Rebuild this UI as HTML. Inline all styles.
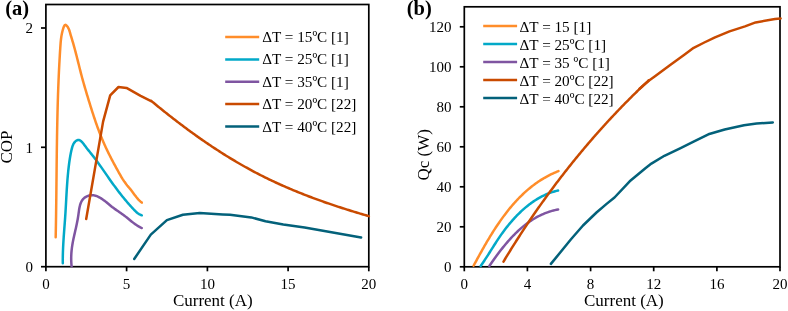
<!DOCTYPE html>
<html><head><meta charset="utf-8"><style>
html,body{margin:0;padding:0;background:#fff;width:788px;height:311px;overflow:hidden}
svg{display:block;will-change:transform;font-family:"Liberation Serif", serif}
</style></head><body>
<svg width="788" height="311" viewBox="0 0 788 311" font-family="Liberation Serif" fill="#000"><rect x="45.9" y="4.5" width="322.90000000000003" height="262.2" fill="none" stroke="#000" stroke-width="1.7"/>
<line x1="41" y1="266.7" x2="45.9" y2="266.7" stroke="#000" stroke-width="1.7"/>
<text x="32.9" y="271.9" font-size="15" text-anchor="end" >0</text>
<line x1="41" y1="147.3" x2="45.9" y2="147.3" stroke="#000" stroke-width="1.7"/>
<text x="32.9" y="152.54999999999998" font-size="15" text-anchor="end" >1</text>
<line x1="41" y1="28.0" x2="45.9" y2="28.0" stroke="#000" stroke-width="1.7"/>
<text x="32.9" y="33.2" font-size="15" text-anchor="end" >2</text>
<line x1="45.9" y1="266.7" x2="45.9" y2="271.3" stroke="#000" stroke-width="1.7"/>
<text x="45.9" y="289.2" font-size="15" text-anchor="middle" >0</text>
<line x1="126.6" y1="266.7" x2="126.6" y2="271.3" stroke="#000" stroke-width="1.7"/>
<text x="126.6" y="289.2" font-size="15" text-anchor="middle" >5</text>
<line x1="207.4" y1="266.7" x2="207.4" y2="271.3" stroke="#000" stroke-width="1.7"/>
<text x="207.4" y="289.2" font-size="15" text-anchor="middle" >10</text>
<line x1="288.1" y1="266.7" x2="288.1" y2="271.3" stroke="#000" stroke-width="1.7"/>
<text x="288.1" y="289.2" font-size="15" text-anchor="middle" >15</text>
<line x1="368.8" y1="266.7" x2="368.8" y2="271.3" stroke="#000" stroke-width="1.7"/>
<text x="368.8" y="289.2" font-size="15" text-anchor="middle" >20</text>
<text x="212.8" y="306.1" font-size="17" text-anchor="middle" >Current (A)</text>
<text transform="translate(12,147) rotate(-90)" x="0" y="0" font-size="17" text-anchor="middle">COP</text>
<text x="5.3" y="15.1" font-size="20.5" font-weight="bold">(a)</text>
<rect x="464.3" y="6.8" width="315.7" height="260.0" fill="none" stroke="#000" stroke-width="1.7"/>
<line x1="459.8" y1="266.8" x2="464.3" y2="266.8" stroke="#000" stroke-width="1.7"/>
<text x="451.5" y="272.0" font-size="15" text-anchor="end" >0</text>
<line x1="459.8" y1="226.8" x2="464.3" y2="226.8" stroke="#000" stroke-width="1.7"/>
<text x="451.5" y="232.0" font-size="15" text-anchor="end" >20</text>
<line x1="459.8" y1="186.8" x2="464.3" y2="186.8" stroke="#000" stroke-width="1.7"/>
<text x="451.5" y="192.0" font-size="15" text-anchor="end" >40</text>
<line x1="459.8" y1="146.8" x2="464.3" y2="146.8" stroke="#000" stroke-width="1.7"/>
<text x="451.5" y="152.0" font-size="15" text-anchor="end" >60</text>
<line x1="459.8" y1="106.8" x2="464.3" y2="106.8" stroke="#000" stroke-width="1.7"/>
<text x="451.5" y="112.00000000000001" font-size="15" text-anchor="end" >80</text>
<line x1="459.8" y1="66.8" x2="464.3" y2="66.8" stroke="#000" stroke-width="1.7"/>
<text x="451.5" y="72.00000000000001" font-size="15" text-anchor="end" >100</text>
<line x1="459.8" y1="26.8" x2="464.3" y2="26.8" stroke="#000" stroke-width="1.7"/>
<text x="451.5" y="32.000000000000014" font-size="15" text-anchor="end" >120</text>
<line x1="464.3" y1="266.8" x2="464.3" y2="271.3" stroke="#000" stroke-width="1.7"/>
<text x="464.3" y="289.2" font-size="15" text-anchor="middle" >0</text>
<line x1="527.4" y1="266.8" x2="527.4" y2="271.3" stroke="#000" stroke-width="1.7"/>
<text x="527.4" y="289.2" font-size="15" text-anchor="middle" >4</text>
<line x1="590.6" y1="266.8" x2="590.6" y2="271.3" stroke="#000" stroke-width="1.7"/>
<text x="590.6" y="289.2" font-size="15" text-anchor="middle" >8</text>
<line x1="653.7" y1="266.8" x2="653.7" y2="271.3" stroke="#000" stroke-width="1.7"/>
<text x="653.7" y="289.2" font-size="15" text-anchor="middle" >12</text>
<line x1="716.9" y1="266.8" x2="716.9" y2="271.3" stroke="#000" stroke-width="1.7"/>
<text x="716.9" y="289.2" font-size="15" text-anchor="middle" >16</text>
<line x1="780.0" y1="266.8" x2="780.0" y2="271.3" stroke="#000" stroke-width="1.7"/>
<text x="780.0" y="289.2" font-size="15" text-anchor="middle" >20</text>
<text x="623.9" y="306.1" font-size="17" text-anchor="middle" >Current (A)</text>
<text transform="translate(429,154.8) rotate(-90)" x="0" y="0" font-size="17" text-anchor="middle">Qc (W)</text>
<text x="406.8" y="15.1" font-size="20.5" font-weight="bold">(b)</text>
<path d="M55.68 237.30 L55.71 235.80 L55.74 234.29 L55.77 232.78 L55.80 231.28 L55.83 229.77 L55.86 228.27 L55.88 226.76 L55.91 225.25 L55.94 223.75 L55.96 222.24 L55.99 220.74 L56.01 219.23 L56.03 217.73 L56.06 216.22 L56.08 214.71 L56.10 213.21 L56.12 211.70 L56.14 210.20 L56.16 208.69 L56.18 207.19 L56.20 205.68 L56.22 204.18 L56.24 202.67 L56.26 201.16 L56.28 199.66 L56.30 198.15 L56.31 196.65 L56.33 195.14 L56.35 193.64 L56.36 192.13 L56.38 190.63 L56.40 189.12 L56.41 187.62 L56.43 186.11 L56.45 184.61 L56.46 183.10 L56.48 181.60 L56.49 180.09 L56.51 178.59 L56.53 177.08 L56.54 175.58 L56.56 174.07 L56.57 172.57 L56.59 171.07 L56.60 169.56 L56.62 168.06 L56.64 166.55 L56.65 165.05 L56.67 163.54 L56.69 162.04 L56.70 160.53 L56.72 159.03 L56.74 157.52 L56.76 156.02 L56.78 154.51 L56.79 153.01 L56.81 151.50 L56.83 150.00 L56.85 148.50 L56.87 146.99 L56.89 145.49 L56.92 143.98 L56.94 142.48 L56.96 140.97 L56.98 139.47 L57.01 137.96 L57.03 136.46 L57.05 134.96 L57.08 133.45 L57.11 131.95 L57.13 130.44 L57.16 128.94 L57.19 127.43 L57.22 125.93 L57.25 124.42 L57.28 122.92 L57.31 121.41 L57.34 119.91 L57.37 118.41 L57.41 116.90 L57.44 115.40 L57.48 113.89 L57.51 112.39 L57.55 110.88 L57.59 109.38 L57.63 107.87 L57.67 106.37 L57.71 104.86 L57.75 103.36 L57.80 101.85 L57.84 100.35 L57.89 98.84 L57.94 97.34 L57.98 95.83 L58.03 94.33 L58.08 92.83 L58.14 91.32 L58.19 89.82 L58.25 88.31 L58.30 86.81 L58.36 85.30 L58.42 83.80 L58.48 82.29 L58.54 80.79 L58.60 79.28 L58.67 77.77 L58.73 76.27 L58.80 74.76 L58.87 73.26 L58.94 71.75 L59.01 70.25 L59.08 68.74 L59.16 67.24 L59.24 65.73 L59.31 64.23 L59.39 62.72 L59.48 61.22 L59.56 59.71 L59.65 58.20 L59.73 56.70 L59.82 55.19 L59.91 53.69 L60.00 52.18 L60.10 50.67 L60.20 49.17 L60.29 47.66 L60.39 46.16 L60.50 44.65 L60.61 43.16 L60.74 41.67 L60.89 40.20 L61.05 38.75 L61.24 37.31 L61.46 35.90 L61.72 34.47 L62.03 33.00 L62.39 31.45 L62.83 29.79 L63.35 28.02 L63.97 26.39 L64.71 25.23 L65.58 24.87 L66.57 25.47 L67.56 26.72 L68.44 28.26 L69.10 29.77 L69.61 31.24 L70.02 32.68 L70.42 34.10 L70.84 35.53 L71.27 36.96 L71.71 38.40 L72.15 39.83 L72.58 41.27 L73.00 42.71 L73.42 44.15 L73.83 45.60 L74.23 47.05 L74.63 48.50 L75.02 49.95 L75.41 51.41 L75.79 52.87 L76.16 54.32 L76.54 55.78 L76.91 57.24 L77.28 58.71 L77.65 60.17 L78.01 61.63 L78.38 63.09 L78.75 64.56 L79.11 66.02 L79.48 67.48 L79.85 68.94 L80.22 70.40 L80.59 71.86 L80.96 73.32 L81.34 74.78 L81.73 76.23 L82.11 77.69 L82.51 79.14 L82.91 80.59 L83.31 82.04 L83.72 83.49 L84.13 84.93 L84.55 86.37 L84.97 87.82 L85.39 89.26 L85.82 90.70 L86.25 92.14 L86.68 93.58 L87.11 95.02 L87.55 96.46 L87.99 97.90 L88.42 99.34 L88.86 100.78 L89.31 102.22 L89.75 103.66 L90.20 105.10 L90.64 106.54 L91.09 107.97 L91.55 109.41 L92.00 110.85 L92.46 112.28 L92.93 113.72 L93.40 115.15 L93.87 116.58 L94.34 118.01 L94.83 119.44 L95.31 120.87 L95.80 122.29 L96.30 123.71 L96.80 125.13 L97.31 126.55 L97.82 127.97 L98.34 129.38 L98.87 130.79 L99.40 132.20 L99.94 133.60 L100.49 135.00 L101.05 136.40 L101.61 137.79 L102.18 139.18 L102.77 140.57 L103.35 141.95 L103.95 143.33 L104.56 144.70 L105.18 146.07 L105.80 147.44 L106.44 148.80 L107.08 150.15 L107.74 151.51 L108.40 152.86 L109.07 154.20 L109.74 155.55 L110.43 156.89 L111.12 158.22 L111.81 159.56 L112.51 160.89 L113.22 162.22 L113.93 163.55 L114.64 164.88 L115.36 166.21 L116.09 167.53 L116.81 168.86 L117.54 170.18 L118.27 171.51 L119.00 172.83 L119.75 174.15 L120.50 175.46 L121.26 176.76 L122.05 178.05 L122.84 179.33 L123.66 180.59 L124.51 181.84 L125.38 183.06 L126.27 184.26 L127.20 185.44 L128.16 186.60 L129.12 187.75 L130.09 188.91 L131.04 190.08 L131.96 191.27 L132.86 192.47 L133.75 193.69 L134.65 194.90 L135.56 196.11 L136.48 197.29 L137.44 198.44 L138.44 199.56 L139.50 200.63 L140.61 201.65 L141.80 202.60" fill="none" stroke="#FF8D2A" stroke-width="2.5" stroke-linejoin="round" stroke-linecap="round"/>
<path d="M62.80 263.20 L62.79 261.68 L62.78 260.15 L62.79 258.63 L62.81 257.11 L62.83 255.60 L62.87 254.08 L62.91 252.56 L62.96 251.05 L63.02 249.54 L63.08 248.02 L63.15 246.51 L63.23 245.00 L63.31 243.49 L63.40 241.98 L63.49 240.47 L63.59 238.96 L63.69 237.45 L63.79 235.95 L63.90 234.44 L64.01 232.93 L64.12 231.42 L64.23 229.92 L64.34 228.41 L64.45 226.90 L64.57 225.39 L64.68 223.89 L64.79 222.38 L64.90 220.87 L65.01 219.36 L65.12 217.85 L65.22 216.34 L65.32 214.83 L65.42 213.32 L65.51 211.81 L65.60 210.29 L65.69 208.78 L65.78 207.27 L65.86 205.75 L65.95 204.24 L66.03 202.72 L66.11 201.21 L66.20 199.70 L66.28 198.18 L66.36 196.67 L66.45 195.15 L66.53 193.64 L66.62 192.12 L66.71 190.61 L66.80 189.10 L66.90 187.58 L67.00 186.07 L67.10 184.56 L67.21 183.05 L67.32 181.54 L67.43 180.03 L67.55 178.52 L67.68 177.02 L67.81 175.51 L67.95 174.01 L68.10 172.50 L68.25 171.00 L68.41 169.50 L68.58 168.00 L68.75 166.51 L68.94 165.01 L69.13 163.52 L69.33 162.02 L69.55 160.53 L69.78 159.04 L70.02 157.55 L70.27 156.06 L70.55 154.57 L70.84 153.08 L71.15 151.58 L71.48 150.09 L71.84 148.59 L72.23 147.09 L72.71 145.63 L73.33 144.22 L74.13 142.89 L75.15 141.66 L76.35 140.66 L77.62 140.04 L78.88 139.96 L80.10 140.41 L81.26 141.29 L82.39 142.46 L83.48 143.81 L84.53 145.22 L85.56 146.58 L86.56 147.89 L87.54 149.15 L88.50 150.37 L89.45 151.55 L90.37 152.71 L91.29 153.86 L92.19 155.00 L93.09 156.14 L93.98 157.28 L94.87 158.44 L95.75 159.62 L96.63 160.80 L97.51 162.00 L98.39 163.21 L99.26 164.42 L100.14 165.65 L101.01 166.88 L101.88 168.12 L102.75 169.36 L103.62 170.61 L104.49 171.87 L105.37 173.12 L106.24 174.38 L107.11 175.64 L107.98 176.90 L108.86 178.16 L109.74 179.41 L110.62 180.66 L111.50 181.91 L112.38 183.16 L113.27 184.40 L114.16 185.63 L115.06 186.85 L115.95 188.07 L116.86 189.28 L117.77 190.48 L118.68 191.68 L119.60 192.87 L120.52 194.06 L121.46 195.23 L122.40 196.41 L123.34 197.57 L124.30 198.74 L125.26 199.89 L126.23 201.04 L127.21 202.19 L128.20 203.33 L129.20 204.47 L130.21 205.60 L131.23 206.73 L132.26 207.86 L133.31 208.98 L134.36 210.09 L135.44 211.19 L136.56 212.23 L137.74 213.19 L139.00 214.04 L140.34 214.75 L141.80 215.30" fill="none" stroke="#02A9C8" stroke-width="2.5" stroke-linejoin="round" stroke-linecap="round"/>
<path d="M71.60 266.30 L71.44 264.54 L71.32 262.82 L71.25 261.14 L71.20 259.48 L71.20 257.86 L71.23 256.26 L71.29 254.69 L71.38 253.14 L71.50 251.62 L71.64 250.11 L71.81 248.63 L72.00 247.16 L72.21 245.70 L72.45 244.26 L72.70 242.83 L72.96 241.40 L73.24 239.99 L73.53 238.58 L73.83 237.17 L74.14 235.76 L74.46 234.35 L74.78 232.94 L75.11 231.52 L75.43 230.10 L75.76 228.67 L76.08 227.23 L76.40 225.77 L76.71 224.30 L77.02 222.82 L77.31 221.31 L77.60 219.79 L77.87 218.24 L78.12 216.67 L78.36 215.08 L78.59 213.45 L78.81 211.82 L79.04 210.18 L79.30 208.56 L79.61 206.97 L79.98 205.42 L80.42 203.93 L80.96 202.52 L81.61 201.19 L82.38 199.97 L83.29 198.86 L84.35 197.88 L85.53 197.04 L86.81 196.35 L88.17 195.81 L89.59 195.44 L91.05 195.23 L92.53 195.20 L94.01 195.36 L95.47 195.70 L96.92 196.19 L98.34 196.81 L99.73 197.54 L101.10 198.35 L102.42 199.23 L103.70 200.15 L104.95 201.10 L106.17 202.08 L107.36 203.06 L108.54 204.05 L109.72 205.03 L110.90 206.00 L112.09 206.95 L113.30 207.86 L114.52 208.75 L115.76 209.63 L117.00 210.49 L118.24 211.34 L119.49 212.20 L120.73 213.05 L121.97 213.92 L123.20 214.80 L124.42 215.70 L125.62 216.63 L126.81 217.57 L128.00 218.53 L129.19 219.50 L130.37 220.46 L131.56 221.42 L132.76 222.36 L133.98 223.29 L135.21 224.18 L136.47 225.05 L137.75 225.87 L139.06 226.64 L140.41 227.36 L141.79 228.01" fill="none" stroke="#7F55A1" stroke-width="2.5" stroke-linejoin="round" stroke-linecap="round"/>
<path d="M86.2 219.0 L103.1 121.6 L110.2 95.3 L118.5 87.0 L126.5 87.9 L140.6 95.8 L151.1 101.1" fill="none" stroke="#C94A00" stroke-width="2.5" stroke-linejoin="round" stroke-linecap="round"/>
<path d="M151.25 100.89 L152.41 101.85 L153.58 102.82 L154.75 103.78 L155.92 104.74 L157.09 105.70 L158.27 106.66 L159.44 107.62 L160.62 108.57 L161.80 109.52 L162.98 110.47 L164.16 111.42 L165.35 112.36 L166.54 113.31 L167.72 114.25 L168.91 115.19 L170.11 116.12 L171.30 117.06 L172.50 117.99 L173.69 118.92 L174.89 119.85 L176.10 120.78 L177.30 121.70 L178.50 122.62 L179.71 123.54 L180.92 124.45 L182.13 125.37 L183.34 126.28 L184.56 127.18 L185.78 128.09 L186.99 128.99 L188.22 129.89 L189.44 130.79 L190.66 131.68 L191.89 132.57 L193.12 133.46 L194.35 134.35 L195.58 135.23 L196.82 136.11 L198.05 136.99 L199.29 137.86 L200.53 138.73 L201.78 139.60 L203.02 140.46 L204.27 141.32 L205.52 142.18 L206.77 143.03 L208.02 143.89 L209.28 144.73 L210.54 145.58 L211.80 146.42 L213.06 147.26 L214.32 148.09 L215.59 148.92 L216.86 149.75 L218.13 150.57 L219.40 151.39 L220.67 152.21 L221.95 153.02 L223.23 153.83 L224.51 154.63 L225.80 155.44 L227.08 156.23 L228.37 157.03 L229.66 157.82 L230.95 158.60 L232.25 159.38 L233.55 160.16 L234.84 160.94 L236.15 161.71 L237.45 162.47 L238.76 163.23 L240.07 163.99 L241.38 164.74 L242.69 165.49 L244.01 166.24 L245.33 166.98 L246.65 167.71 L247.97 168.44 L249.29 169.17 L250.62 169.89 L251.95 170.61 L253.28 171.32 L254.62 172.03 L255.96 172.74 L257.30 173.44 L258.64 174.13 L259.98 174.82 L261.33 175.51 L262.68 176.19 L264.03 176.86 L265.39 177.53 L266.74 178.20 L268.10 178.86 L269.46 179.52 L270.83 180.17 L272.19 180.82 L273.56 181.47 L274.93 182.11 L276.30 182.74 L277.68 183.37 L279.05 184.00 L280.43 184.62 L281.81 185.24 L283.20 185.85 L284.58 186.46 L285.97 187.07 L287.36 187.67 L288.75 188.27 L290.14 188.86 L291.54 189.45 L292.93 190.03 L294.33 190.61 L295.73 191.19 L297.13 191.76 L298.53 192.33 L299.94 192.90 L301.35 193.46 L302.76 194.02 L304.17 194.57 L305.58 195.12 L306.99 195.67 L308.41 196.21 L309.82 196.75 L311.24 197.29 L312.66 197.82 L314.08 198.35 L315.50 198.87 L316.93 199.39 L318.35 199.91 L319.78 200.43 L321.20 200.94 L322.63 201.44 L324.06 201.95 L325.49 202.45 L326.93 202.95 L328.36 203.44 L329.80 203.93 L331.23 204.42 L332.67 204.91 L334.11 205.39 L335.55 205.87 L336.99 206.35 L338.43 206.82 L339.87 207.29 L341.31 207.76 L342.76 208.22 L344.20 208.68 L345.65 209.14 L347.09 209.60 L348.54 210.05 L349.99 210.50 L351.44 210.95 L352.89 211.39 L354.34 211.83 L355.79 212.27 L357.24 212.71 L358.69 213.15 L360.15 213.58 L361.60 214.01 L363.05 214.43 L364.51 214.86 L365.96 215.28 L367.42 215.70 L368.87 216.12" fill="none" stroke="#C94A00" stroke-width="2.5" stroke-linejoin="round" stroke-linecap="round"/>
<path d="M134.2 259.0 L150.8 234.6 L166.9 220.1 L182.9 214.8 L199.7 213.1 L222.7 214.5 L230.0 214.8 L251.3 217.4 L265.5 221.3 L283.3 224.5 L304.6 227.6 L361.1 237.5" fill="none" stroke="#03617A" stroke-width="2.5" stroke-linejoin="round" stroke-linecap="round"/>
<path d="M473.59 265.75 L474.29 264.45 L474.99 263.15 L475.70 261.84 L476.41 260.53 L477.13 259.22 L477.84 257.90 L478.57 256.58 L479.29 255.26 L480.03 253.94 L480.76 252.61 L481.50 251.28 L482.25 249.96 L483.00 248.63 L483.75 247.30 L484.51 245.97 L485.28 244.65 L486.05 243.32 L486.83 241.99 L487.61 240.67 L488.40 239.35 L489.19 238.02 L489.99 236.71 L490.79 235.39 L491.61 234.07 L492.43 232.76 L493.25 231.45 L494.08 230.15 L494.92 228.85 L495.77 227.55 L496.62 226.26 L497.48 224.98 L498.35 223.69 L499.22 222.42 L500.11 221.15 L501.00 219.88 L501.90 218.63 L502.80 217.37 L503.72 216.13 L504.64 214.89 L505.57 213.66 L506.51 212.44 L507.46 211.23 L508.42 210.03 L509.39 208.83 L510.36 207.64 L511.35 206.47 L512.34 205.30 L513.35 204.14 L514.36 202.99 L515.39 201.86 L516.42 200.73 L517.46 199.62 L518.52 198.51 L519.58 197.42 L520.66 196.34 L521.74 195.28 L522.84 194.23 L523.95 193.18 L525.07 192.16 L526.20 191.14 L527.34 190.15 L528.49 189.16 L529.66 188.19 L530.83 187.23 L532.02 186.29 L533.22 185.37 L534.43 184.46 L535.66 183.57 L536.89 182.69 L538.14 181.83 L539.40 180.99 L540.68 180.16 L541.97 179.36 L543.27 178.57 L544.58 177.79 L545.91 177.04 L547.25 176.31 L548.60 175.59 L549.97 174.90 L551.36 174.22 L552.75 173.57 L554.16 172.93 L555.59 172.32 L557.03 171.72 L558.48 171.15" fill="none" stroke="#FF8D2A" stroke-width="2.5" stroke-linejoin="round" stroke-linecap="round"/>
<path d="M480.67 265.99 L481.54 264.74 L482.41 263.48 L483.27 262.22 L484.12 260.95 L484.96 259.68 L485.80 258.40 L486.63 257.12 L487.46 255.84 L488.28 254.55 L489.10 253.26 L489.91 251.97 L490.73 250.68 L491.54 249.39 L492.36 248.10 L493.17 246.81 L493.99 245.53 L494.81 244.25 L495.63 242.97 L496.46 241.69 L497.29 240.42 L498.13 239.15 L498.97 237.89 L499.82 236.64 L500.68 235.39 L501.55 234.15 L502.43 232.92 L503.32 231.69 L504.23 230.48 L505.14 229.27 L506.06 228.07 L506.99 226.88 L507.94 225.70 L508.89 224.53 L509.86 223.36 L510.84 222.21 L511.83 221.06 L512.84 219.93 L513.85 218.80 L514.88 217.68 L515.93 216.58 L516.98 215.48 L518.06 214.40 L519.14 213.32 L520.24 212.26 L521.35 211.21 L522.48 210.18 L523.62 209.15 L524.77 208.15 L525.94 207.16 L527.12 206.19 L528.31 205.23 L529.52 204.30 L530.74 203.38 L531.98 202.49 L533.23 201.62 L534.49 200.77 L535.77 199.94 L537.06 199.14 L538.36 198.36 L539.68 197.61 L541.01 196.88 L542.36 196.18 L543.72 195.51 L545.09 194.87 L546.48 194.26 L547.88 193.68 L549.29 193.14 L550.72 192.62 L552.16 192.14 L553.61 191.70 L555.08 191.28 L556.56 190.91 L558.06 190.57" fill="none" stroke="#02A9C8" stroke-width="2.5" stroke-linejoin="round" stroke-linecap="round"/>
<path d="M489.35 265.97 L490.20 264.74 L491.06 263.50 L491.93 262.26 L492.80 261.01 L493.68 259.77 L494.57 258.52 L495.47 257.28 L496.38 256.03 L497.29 254.79 L498.22 253.55 L499.16 252.31 L500.10 251.07 L501.05 249.84 L502.02 248.61 L502.99 247.39 L503.97 246.18 L504.97 244.97 L505.97 243.77 L506.99 242.58 L508.01 241.39 L509.05 240.22 L510.10 239.05 L511.15 237.90 L512.22 236.76 L513.31 235.63 L514.40 234.52 L515.50 233.41 L516.62 232.33 L517.75 231.25 L518.89 230.20 L520.05 229.16 L521.21 228.13 L522.39 227.13 L523.59 226.14 L524.79 225.17 L526.01 224.22 L527.25 223.30 L528.49 222.39 L529.75 221.51 L531.03 220.65 L532.32 219.81 L533.62 218.99 L534.94 218.20 L536.27 217.44 L537.62 216.70 L538.98 215.99 L540.36 215.30 L541.75 214.65 L543.16 214.02 L544.58 213.42 L546.02 212.86 L547.48 212.32 L548.95 211.81 L550.44 211.34 L551.94 210.90 L553.46 210.49 L555.00 210.12 L556.55 209.78 L558.13 209.48" fill="none" stroke="#7F55A1" stroke-width="2.5" stroke-linejoin="round" stroke-linecap="round"/>
<path d="M503.50 261.60 L504.28 260.30 L505.06 259.01 L505.84 257.72 L506.63 256.43 L507.41 255.14 L508.20 253.85 L509.00 252.57 L509.79 251.28 L510.58 250.00 L511.38 248.71 L512.18 247.43 L512.99 246.15 L513.79 244.87 L514.60 243.59 L515.41 242.32 L516.22 241.04 L517.03 239.77 L517.85 238.49 L518.67 237.22 L519.49 235.95 L520.31 234.68 L521.13 233.41 L521.96 232.15 L522.79 230.88 L523.62 229.62 L524.45 228.35 L525.29 227.09 L526.13 225.83 L526.97 224.57 L527.81 223.31 L528.65 222.06 L529.50 220.80 L530.35 219.55 L531.20 218.30 L532.05 217.05 L532.91 215.80 L533.76 214.55 L534.62 213.30 L535.48 212.06 L536.35 210.81 L537.21 209.57 L538.08 208.33 L538.95 207.09 L539.82 205.85 L540.70 204.62 L541.58 203.38 L542.45 202.15 L543.34 200.92 L544.22 199.69 L545.10 198.46 L545.99 197.23 L546.88 196.00 L547.77 194.78 L548.67 193.56 L549.56 192.33 L550.46 191.11 L551.36 189.90 L552.27 188.68 L553.17 187.46 L554.08 186.25 L554.99 185.04 L555.90 183.83 L556.81 182.62 L557.73 181.41 L558.64 180.20 L559.56 179.00 L560.49 177.80 L561.41 176.60 L562.34 175.40 L563.26 174.20 L564.20 173.00 L565.13 171.81 L566.06 170.62 L567.00 169.43 L567.94 168.24 L568.88 167.05 L569.82 165.86 L570.77 164.68 L571.72 163.50 L572.67 162.32 L573.62 161.14 L574.57 159.96 L575.53 158.78 L576.49 157.61 L577.45 156.44 L578.41 155.27 L579.37 154.10 L580.34 152.93 L581.31 151.77 L582.28 150.61 L583.25 149.44 L584.23 148.28 L585.21 147.13 L586.18 145.97 L587.17 144.82 L588.15 143.67 L589.14 142.52 L590.12 141.37 L591.11 140.22 L592.10 139.08 L593.10 137.93 L594.10 136.79 L595.09 135.65 L596.09 134.52 L597.10 133.38 L598.10 132.25 L599.11 131.12 L600.12 129.99 L601.13 128.86 L602.14 127.73 L603.16 126.61 L604.17 125.49 L605.19 124.37 L606.21 123.25 L607.24 122.14 L608.26 121.02 L609.29 119.91 L610.32 118.80 L611.35 117.70 L612.38 116.59 L613.42 115.49 L614.46 114.38 L615.50 113.29 L616.54 112.19 L617.58 111.09 L618.63 110.00 L619.68 108.91 L620.73 107.82 L621.78 106.73 L622.84 105.65 L623.89 104.57 L624.95 103.49 L626.01 102.41 L627.08 101.33 L628.14 100.26 L629.21 99.19 L630.28 98.12 L631.35 97.05 L632.42 95.98 L633.50 94.92 L634.57 93.86 L635.65 92.80 L636.73 91.74 L637.82 90.69 L638.90 89.64 L639.99 88.59 L641.08 87.54 L642.17 86.49 L643.27 85.45 L644.36 84.41 L645.46 83.37 L646.56 82.33 L647.66 81.30 L648.76 80.27" fill="none" stroke="#C94A00" stroke-width="2.5" stroke-linejoin="round" stroke-linecap="round"/>
<path d="M639.5 88.8 L649.1 80.6 L655.0 76.3 L669.5 65.4 L685.0 54.3 L693.7 47.8 L704.3 42.5 L715.0 37.4 L729.5 31.4 L745.0 26.4 L755.6 22.4 L775.0 19.0 L780.6 18.4" fill="none" stroke="#C94A00" stroke-width="2.5" stroke-linejoin="round" stroke-linecap="round"/>
<path d="M550.9 263.9 L571.0 239.3 L583.0 225.5 L596.5 212.5 L606.6 203.9 L614.5 197.5 L629.7 181.3 L645.4 168.2 L651.4 163.6 L664.4 155.8 L680.6 148.1 L694.6 141.2 L708.4 134.3 L724.7 129.5 L744.0 125.2 L756.6 123.5 L772.8 122.5" fill="none" stroke="#03617A" stroke-width="2.5" stroke-linejoin="round" stroke-linecap="round"/>
<line x1="225.2" y1="37.0" x2="259.2" y2="37.0" stroke="#FF8D2A" stroke-width="2.5"/>
<text x="262.3" y="42.10" font-size="15.2" text-anchor="start" >ΔT = 15ºC [1]</text>
<line x1="225.2" y1="59.4" x2="259.2" y2="59.4" stroke="#02A9C8" stroke-width="2.5"/>
<text x="262.3" y="64.45" font-size="15.2" text-anchor="start" >ΔT = 25ºC [1]</text>
<line x1="225.2" y1="81.7" x2="259.2" y2="81.7" stroke="#7F55A1" stroke-width="2.5"/>
<text x="262.3" y="86.80" font-size="15.2" text-anchor="start" >ΔT = 35ºC [1]</text>
<line x1="225.2" y1="104.1" x2="259.2" y2="104.1" stroke="#C94A00" stroke-width="2.5"/>
<text x="262.3" y="109.15" font-size="15.2" text-anchor="start" >ΔT = 20ºC [22]</text>
<line x1="225.2" y1="126.4" x2="259.2" y2="126.4" stroke="#03617A" stroke-width="2.5"/>
<text x="262.3" y="131.50" font-size="15.2" text-anchor="start" >ΔT = 40ºC [22]</text>
<line x1="483.2" y1="26.1" x2="517.1" y2="26.1" stroke="#FF8D2A" stroke-width="2.5"/>
<text x="519.6" y="31.80" font-size="15.2" text-anchor="start" >ΔT = 15 [1]</text>
<line x1="483.2" y1="44.1" x2="517.1" y2="44.1" stroke="#02A9C8" stroke-width="2.5"/>
<text x="519.6" y="49.75" font-size="15.2" text-anchor="start" >ΔT = 25ºC [1]</text>
<line x1="483.2" y1="62.0" x2="517.1" y2="62.0" stroke="#7F55A1" stroke-width="2.5"/>
<text x="519.6" y="67.70" font-size="15.2" text-anchor="start" >ΔT = 35 ºC [1]</text>
<line x1="483.2" y1="80.0" x2="517.1" y2="80.0" stroke="#C94A00" stroke-width="2.5"/>
<text x="519.6" y="85.65" font-size="15.2" text-anchor="start" >ΔT = 20ºC [22]</text>
<line x1="483.2" y1="97.9" x2="517.1" y2="97.9" stroke="#03617A" stroke-width="2.5"/>
<text x="519.6" y="103.60" font-size="15.2" text-anchor="start" >ΔT = 40ºC [22]</text></svg>
</body></html>
